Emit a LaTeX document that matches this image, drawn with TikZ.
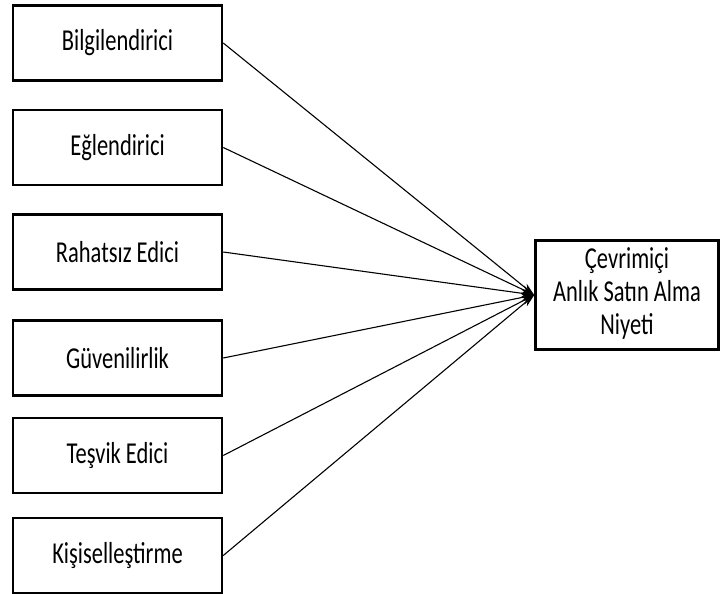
\documentclass[tikz,border=0pt]{standalone}
\usepackage{graphicx}
\usepackage{fontspec}
\setmainfont{Carlito}
\usetikzlibrary{arrows.meta}
\newcommand{\uzun}[1]{\scalebox{1}[1.35]{#1}}
\tikzset{
  kutu/.style={draw, line width=2.5pt, minimum width=209pt, minimum height=75pt,
    inner sep=0pt, font=\fontsize{22.5}{24.4}\selectfont},
  etki/.style={line width=1.1pt, -{Stealth[length=13pt,width=8pt]}}
}
\begin{document}
\begin{tikzpicture}[x=1pt,y=-1pt]
   \useasboundingbox (0,0) rectangle (720,594);

   % sol taraftaki kutular
   \node[kutu] (bilgi) at (117.5,43) {\uzun{Bilgilendirici}};
   \node[kutu] (eglen) at (117.5,147.5) {\uzun{Eğlendirici}};
   \node[kutu] (rahat) at (117.5,252) {\uzun{Rahatsız Edici}};
   \node[kutu] (guven) at (117.5,358) {\uzun{Güvenilirlik}};
   \node[kutu] (tesvik) at (117.5,455.5) {\uzun{Teşvik Edici}};
   \node[kutu] (kisi) at (117.5,555.5) {\uzun{Kişiselleştirme}};

   % sag taraftaki kutu
   \node[kutu, minimum width=183pt, minimum height=109pt] (niyet) at (627,295)
     {\uzun{\begin{tabular}{@{}c@{}}Çevrimiçi\\Anlık Satın Alma\\Niyeti\end{tabular}}};

   \foreach \k in {bilgi,eglen,rahat,guven,tesvik,kisi}
     \draw[etki] (\k.east) -- (niyet.west);

\end{tikzpicture}
\end{document}
